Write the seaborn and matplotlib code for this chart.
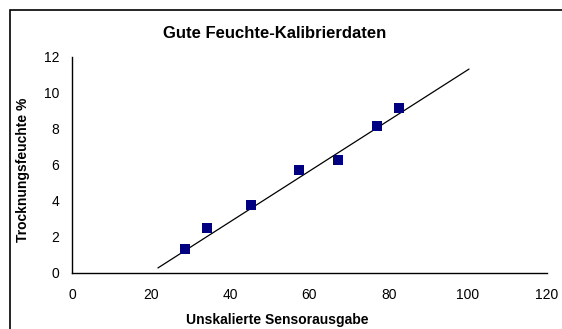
import matplotlib
matplotlib.use("Agg")
import matplotlib.pyplot as plt
import seaborn as sns
import pandas as pd
from matplotlib.patches import Rectangle

# Calibration measurements: raw sensor output vs. drying moisture (%)
sensor_output = [28.5, 34.1, 45.3, 57.3, 67.2, 77.1, 82.7]
moisture_pct = [1.33, 2.52, 3.76, 5.72, 6.28, 8.18, 9.15]

# Linear trendline end points
trend_x = [21.7, 100.3]
trend_y = [0.28, 11.33]

x_ticks = [0, 20, 40, 60, 80, 100, 120]
y_ticks = [0, 2, 4, 6, 8, 10, 12]

title = "Gute Feuchte-Kalibrierdaten"
x_label = "Unskalierte Sensorausgabe"
y_label = "Trocknungsfeuchte %"

sns.set_style("white")
plt.rcParams["font.family"] = ["Liberation Sans", "DejaVu Sans"]
plt.rcParams["text.color"] = "black"
plt.rcParams["axes.labelcolor"] = "black"

points = pd.DataFrame({"x": sensor_output, "y": moisture_pct})
trend = pd.DataFrame({"x": trend_x, "y": trend_y})

fig = plt.figure(figsize=(5.62, 3.29), dpi=100)
ax = fig.add_axes([72 / 562, 1 - 273 / 329, 475 / 562, 216 / 329])

sns.lineplot(data=trend, x="x", y="y", ax=ax, color="black", linewidth=0.9)
sns.scatterplot(data=points, x="x", y="y", ax=ax, marker="s", s=50,
                color="#000080", edgecolor="none", zorder=3)

ax.set_xlim(0, 120)
ax.set_ylim(0, 12)
ax.set_xticks(x_ticks)
ax.set_yticks(y_ticks)
ax.tick_params(axis="both", direction="out", length=4, width=0.8,
               labelsize=10, colors="black")
ax.tick_params(axis="x", pad=7)
ax.tick_params(axis="y", pad=5)

for side in ("top", "right"):
    ax.spines[side].set_visible(False)
for side in ("left", "bottom"):
    ax.spines[side].set_color("black")
    ax.spines[side].set_linewidth(1.0)

ax.set_xlabel(x_label, fontsize=10, fontweight="bold")
ax.set_ylabel(y_label, fontsize=10, fontweight="bold")
ax.xaxis.set_label_coords(0.4316, -0.2176)
ax.yaxis.set_label_coords(-0.103, 0.477)
ax.xaxis.label.set_va("center")
ax.yaxis.label.set_va("center")

fig.text(275 / 562, 1 - 34 / 329, title, ha="center", va="center",
         fontsize=12, fontweight="bold")

# Chart area frame
fig.patches.append(Rectangle((10 / 562, -0.05), 1.0, 1.05 - 10 / 329,
                             transform=fig.transFigure, fill=False,
                             edgecolor="black", linewidth=1.2))

fig.savefig("out.png", dpi=100)
